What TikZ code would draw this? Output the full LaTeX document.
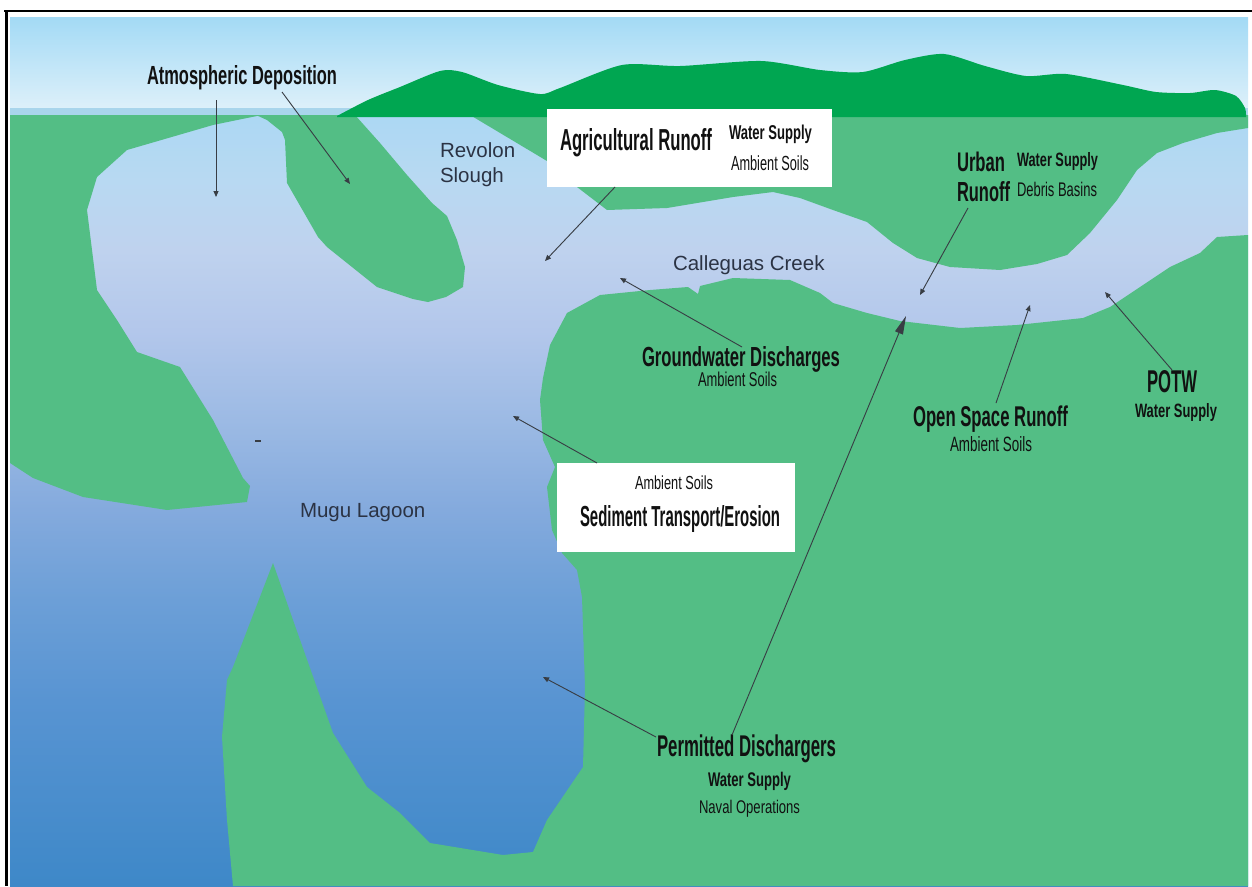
\documentclass[tikz,border=0pt]{standalone}
\usepackage{fontspec}
\setmainfont{Liberation Sans}
\usepackage{graphicx}
\usetikzlibrary{arrows.meta}

% one drawing unit = one pixel of the 1252 x 886 page
\newdimen\pxu \pxu=0.6pt
\newcommand\squeeze[3]{\resizebox{#1\pxu}{#2\pxu}{#3}}

\definecolor{skytop}{HTML}{A3DAF5}
\definecolor{skybot}{HTML}{DDF0FA}
\definecolor{haze}{HTML}{A9D5EC}
\definecolor{land}{HTML}{53BE85}
\definecolor{hill}{HTML}{00A651}
\definecolor{ink}{HTML}{111111}
\definecolor{navy}{HTML}{2B3344}
\definecolor{pointer}{HTML}{383D44}
% water, from the deep bottom to the shallow top
\definecolor{w0}{HTML}{3E88C8}
\definecolor{w1}{HTML}{5894D2}
\definecolor{w2}{HTML}{6C9FD7}
\definecolor{w3}{HTML}{84AADD}
\definecolor{w4}{HTML}{9CBAE4}
\definecolor{w5}{HTML}{B3C7EB}
\definecolor{w6}{HTML}{BFD2EE}
\definecolor{w7}{HTML}{B8D9F2}
\definecolor{w8}{HTML}{ACD8F3}

\pgfdeclareverticalshading{lagoon}{100bp}{%
  color(0bp)=(w0); color(25bp)=(w0); color(37bp)=(w1); color(43.5bp)=(w2);
  color(49.4bp)=(w3); color(55.2bp)=(w4); color(61bp)=(w5); color(66.2bp)=(w6);
  color(70.8bp)=(w7); color(75bp)=(w8); color(100bp)=(w8)}

\begin{document}
\begin{tikzpicture}[x=0.6pt,y=-0.6pt,
  pointer/.style={draw=pointer, line width=0.55pt, -{Triangle[length=3.6pt,width=3pt]}},
  bigpointer/.style={draw=pointer, line width=0.55pt, -{Triangle[length=11pt,width=5pt]}},
  lbl/.style={inner sep=0pt, outer sep=0pt, anchor=base west, text=ink},
  waterlabel/.style={inner sep=0pt, outer sep=0pt, anchor=base west, text=navy, align=left,
    font=\fontsize{12.3pt}{15pt}\selectfont},
  panel/.style={fill=white},
  ground/.style={fill=land},
]
\useasboundingbox (0,0) rectangle (1252,886);
\fill[white] (0,0) rectangle (1252,886);

% sky and horizon haze
\shade[top color=skytop, bottom color=skybot] (10,17) rectangle (1248,108.5);
\fill[haze] (10,108) rectangle (1248,116);

% water body
\shade[shading=lagoon] (10,115) rectangle (1248,886);

% west shore
\fill[ground] (10,115) -- (262,115) -- (247,118) -- (213,125) -- (127,150) -- (97,177)
  -- (87,210) -- (97,290) -- (117,320) -- (137,352) -- (180,367) -- (213,420)
  -- (243,478) -- (250,486) -- (247,502) -- (167,510) -- (83,497) -- (33,478)
  -- (10,463) -- cycle;

% tongue between the lagoon and Revolon Slough
\fill[ground] (256,115) -- (355,115) -- (380,143) -- (407,175) -- (432,203) -- (447,216)
  -- (457,240) -- (465,267) -- (463,287) -- (446,297) -- (428,302) -- (413,299)
  -- (377,287) -- (327,247) -- (318,237) -- (287,183) -- (285,140) -- (282,132)
  -- (267,120) -- cycle;

% north bank of the creek
\fill[ground] (470,115) -- (547,161) -- (577,187) -- (607,210) -- (667,208) -- (733,197)
  -- (773,192) -- (800,198) -- (833,210) -- (867,222) -- (893,243) -- (917,258)
  -- (950,267) -- (1000,270) -- (1037,264) -- (1067,255) -- (1090,233) -- (1117,200)
  -- (1137,170) -- (1157,153) -- (1183,143) -- (1217,133) -- (1248,128)
  -- (1248,115) -- cycle;

% south bank, east shore of the lagoon and the sand spit
\fill[ground] (233,886) -- (227,820) -- (222,737) -- (227,680) -- (233,667) -- (273,563)
  -- (293,620) -- (333,733) -- (367,787) -- (400,813) -- (430,843) -- (503,855)
  -- (533,852) -- (547,820) -- (583,767) -- (585,687) -- (582,597) -- (577,570)
  -- (562,553) -- (552,530) -- (547,487) -- (555,467) -- (543,440) -- (540,400)
  -- (543,378) -- (550,345) -- (567,313) -- (600,295) -- (650,290) -- (688,287)
  -- (698,294) -- (700,286) -- (733,278) -- (790,280) -- (820,293) -- (833,303)
  -- (867,313) -- (900,321) -- (960,328) -- (1017,325) -- (1083,318) -- (1110,307)
  -- (1140,287) -- (1170,267) -- (1200,253) -- (1217,237) -- (1248,235)
  -- (1248,886) -- cycle;

% mountains on the horizon
\fill[hill] (337,117) -- plot[smooth, tension=0.45] coordinates {(337,116) (368,100)
  (400,87) (440,71) (462,72) (498,85) (540,94) (560,88) (622,65) (680,66) (761,61)
  (820,70) (863,72) (905,60) (944,54) (985,66) (1026,76) (1066,74) (1123,85)
  (1156,92) (1190,93) (1215,90) (1236,96) (1245,108) (1246,117)} -- cycle;

% frame
\draw[line width=1.6pt] (4,11) -- (1252,11);
\draw[line width=1.8pt] (6.5,10) -- (6.5,886);

% label panels
\fill[panel] (547,109) rectangle (832,187);
\fill[panel] (557,463) rectangle (795,552);

% place names
\node[waterlabel] (revolon) at (440,182.3) {Revolon\\Slough};
\node[waterlabel] (creek) at (673,270.7) {Calleguas Creek};
\node[waterlabel] (mugu) at (300,517.3) {Mugu Lagoon};

% sources
\node[lbl] (atm) at (147,84) {\squeeze{190}{19}{\bfseries Atmospheric Deposition}};
\node[lbl] (agri) at (560,150.7) {\squeeze{152}{22}{\bfseries Agricultural Runoff}};
\node[lbl] (agriws) at (729,139.5) {\squeeze{83}{14.5}{\bfseries Water Supply}};
\node[lbl] (agrias) at (731,170.5) {\squeeze{78}{14.8}{Ambient Soils}};
\node[lbl] (urban) at (957,171) {\squeeze{48}{19.5}{\bfseries Urban}};
\node[lbl] (urbanro) at (957,201.7) {\squeeze{53}{20}{\bfseries Runoff}};
\node[lbl] (urbanws) at (1017,166.7) {\squeeze{81}{14}{\bfseries Water Supply}};
\node[lbl] (urbandb) at (1017,196) {\squeeze{80}{14.3}{Debris Basins}};
\node[lbl] (gw) at (642,366.7) {\squeeze{198}{20}{\bfseries Groundwater Discharges}};
\node[lbl] (gwas) at (698,386) {\squeeze{79}{14.5}{Ambient Soils}};
\node[lbl] (potw) at (1147,392.7) {\squeeze{50}{22}{\bfseries POTW}};
\node[lbl] (potwws) at (1135,417.3) {\squeeze{82}{14}{\bfseries Water Supply}};
\node[lbl] (open) at (913,426.7) {\squeeze{155}{20.7}{\bfseries Open Space Runoff}};
\node[lbl] (openas) at (950,451) {\squeeze{82}{15}{Ambient Soils}};
\node[lbl] (sedas) at (635,489.3) {\squeeze{78}{13.7}{Ambient Soils}};
\node[lbl] (sed) at (580,526.7) {\squeeze{200}{21}{\bfseries Sediment Transport/Erosion}};
\node[lbl] (perm) at (657,756.7) {\squeeze{179}{21.7}{\bfseries Permitted Dischargers}};
\node[lbl] (permws) at (708,786) {\squeeze{83}{14.3}{\bfseries Water Supply}};
\node[lbl] (permno) at (699,813) {\squeeze{101}{13.3}{Naval Operations}};

% arrow ends
\coordinate (atmA) at (216,100);   \coordinate (atmAt) at (216,197);
\coordinate (atmB) at (282,92);    \coordinate (atmBt) at (350,184);
\coordinate (agriS) at (615,187);  \coordinate (agriT) at (545,261);
\coordinate (gwS) at (742,347);    \coordinate (gwT) at (620,278);
\coordinate (urbS) at (968,208);   \coordinate (urbT) at (920,295);
\coordinate (permS) at (732,735);  \coordinate (permT) at (906,316);
\coordinate (permL) at (656,737);  \coordinate (permLT) at (543,677);
\coordinate (openS) at (996,403);  \coordinate (openT) at (1030,305);
\coordinate (potwS) at (1172,370); \coordinate (potwT) at (1105,292);
\coordinate (sedS) at (597,463);   \coordinate (sedT) at (513,416);

\draw[pointer] (atmA) -- (atmAt);
\draw[pointer] (atmB) -- (atmBt);
\draw[pointer] (agriS) -- (agriT);
\draw[pointer] (gwS) -- (gwT);
\draw[pointer] (urbS) -- (urbT);
\draw[bigpointer] (permS) -- (permT);
\draw[pointer] (permL) -- (permLT);
\draw[pointer] (openS) -- (openT);
\draw[pointer] (potwS) -- (potwT);
\draw[pointer] (sedS) -- (sedT);

% small mark in the lagoon
\fill[pointer] (255.5,440.3) rectangle (260,441.7);
\end{tikzpicture}
\end{document}
